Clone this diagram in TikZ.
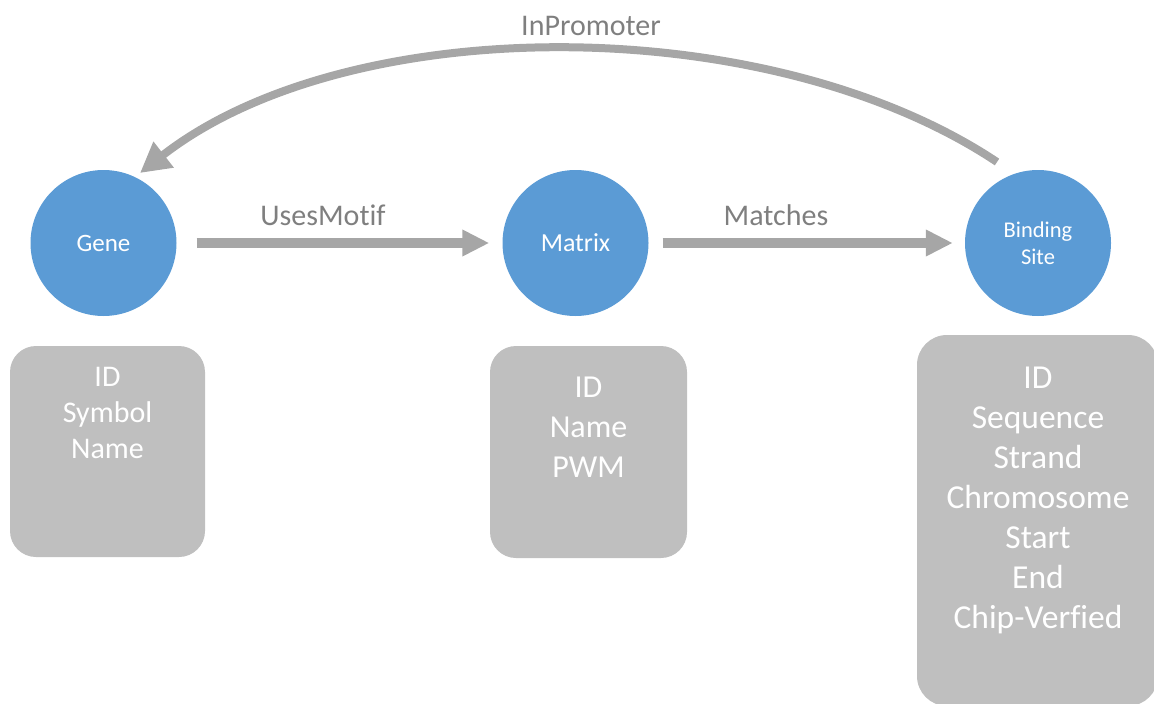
\documentclass[tikz,border=0pt]{standalone}
\usepackage{fontspec}
\setmainfont{Carlito}[Ligatures={NoCommon,NoContextual}, RawFeature={-liga;-clig}]
\usetikzlibrary{arrows.meta}
\definecolor{entity}{HTML}{5B9BD5}
\definecolor{attrgray}{HTML}{BFBFBF}
\definecolor{linkgray}{HTML}{A6A6A6}
\definecolor{labelgray}{HTML}{7F7F7F}

\begin{document}
\begin{tikzpicture}[x=1pt,y=-1pt,
  entitynode/.style={circle, fill=entity, minimum size=146pt, inner sep=0pt,
    text=white, align=center},
  attrbox/.style={rectangle, rounded corners=26pt, fill=attrgray, inner sep=0pt},
  attrtext/.style={text=white, align=center, inner sep=0pt, anchor=base},
  relation/.style={draw=linkgray, line width=10pt,
    -{Triangle[length=27pt,width=25pt]}},
  rellabel/.style={text=labelgray, font=\fontsize{30}{36}\selectfont,
    anchor=base, inner sep=0pt}]
\useasboundingbox (0,0) rectangle (1154,704);
\clip (0,0) rectangle (1154,704);

% entities
\node[entitynode, font=\fontsize{25}{30}\selectfont] (gene) at (103.5,243) {Gene};
\node[entitynode, font=\fontsize{26}{30}\selectfont] (matrix) at (575.5,243) {Matrix};
\node[entitynode, font=\fontsize{22.5}{27}\selectfont] (site) at (1038,243) {Binding\\Site};

% attribute boxes
\node[attrbox, minimum width=195pt, minimum height=211pt] (gene-box) at (107.5,451.5) {};
\node[attrbox, minimum width=197pt, minimum height=212pt] (matrix-box) at (588.5,452) {};
\node[attrbox, rounded corners=30pt, minimum width=241pt, minimum height=371pt] (site-box) at (1037.5,520.5) {};

% attribute lists (anchored at the baseline of their last line)
\node[attrtext, font=\fontsize{30}{36}\selectfont] (gene-attrs) at (107.5,458.5) {ID\\Symbol\\Name};
\node[attrtext, font=\fontsize{32}{40}\selectfont] (matrix-attrs) at (588.5,477.5) {ID\\Name\\PWM};
\node[attrtext, font=\fontsize{33.5}{40}\selectfont] (site-attrs) at (1038,628) {ID\\Sequence\\Strand\\Chromosome\\Start\\End\\Chip-Verfied};

% relations
\draw[relation, shorten <=20pt, shorten >=13pt] (gene) -- (matrix);
\draw[relation, shorten <=14pt, shorten >=12pt] (matrix) -- (site);
\coordinate (ip-start) at ([shift={(-41,-81)}]site.center);
\coordinate (ip-end) at ([shift={(36.5,-70)}]gene.center);
\draw[draw=linkgray, line width=8pt, -{Triangle[length=30pt,width=31pt]}]
  (ip-start) .. controls (769,10) and (349,10) .. (ip-end);

\node[rellabel] (uses-label) at (323,225) {UsesMotif};
\node[rellabel] (matches-label) at (776,225) {Matches};
\node[rellabel] (promoter-label) at (591,35) {InPromoter};
\end{tikzpicture}
\end{document}
